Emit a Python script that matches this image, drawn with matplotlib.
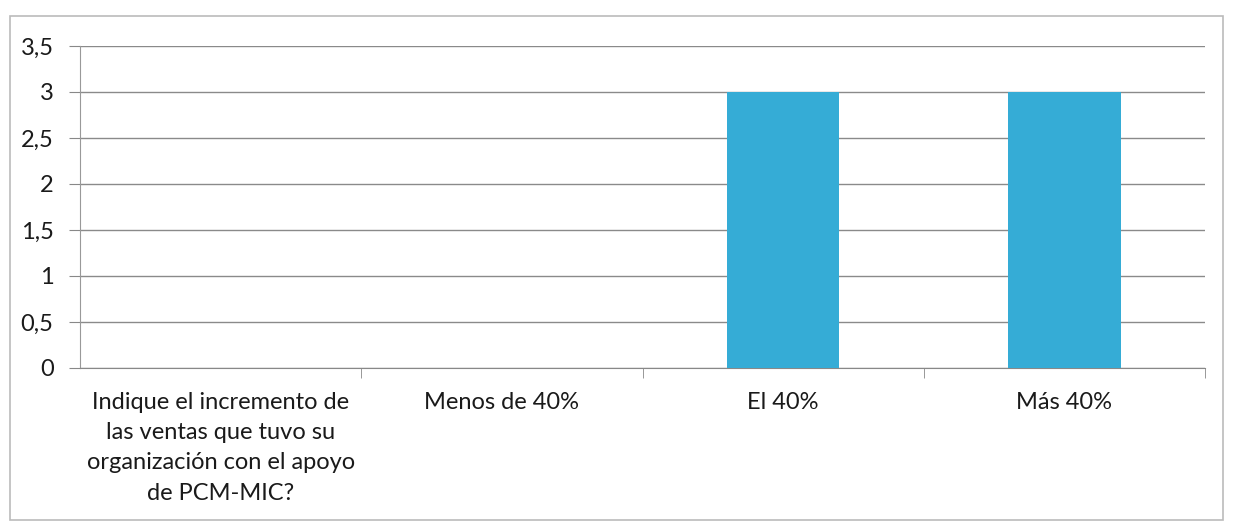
import matplotlib
matplotlib.use("Agg")
import matplotlib.pyplot as plt
from matplotlib.patches import Rectangle

categories = ["Indique el incremento de\nlas ventas que tuvo su\norganización con el apoyo\nde PCM-MIC?",
              "Menos de 40%", "El 40%", "Más 40%"]
values = [0, 0, 3, 3]
yticks = [0, 0.5, 1, 1.5, 2, 2.5, 3, 3.5]
ytick_labels = ["0", "0,5", "1", "1,5", "2", "2,5", "3", "3,5"]

plt.rcParams['font.family'] = ['Lato', 'DejaVu Sans']

fig = plt.figure(figsize=(12.33, 5.26), dpi=100)
ax = fig.add_axes([80/1233, 1-368/526, (1205-80)/1233, (368-46)/526])

x = list(range(len(categories)))
ax.bar(x, values, width=0.4, color="#35acd6", zorder=3)

ax.set_xlim(-0.5, len(categories) - 0.5)
ax.set_ylim(0, 3.5)
ax.set_yticks(yticks)
ax.set_yticklabels(ytick_labels, fontsize=17, color="#1a1a1a")
ax.set_xticks(x)
ax.set_xticklabels(categories, fontsize=17, va='top', linespacing=1.55, color="#1a1a1a")
ax.set_xticks([i + 0.5 for i in x], minor=True)
ax.tick_params(axis='x', which='major', length=0, pad=17)
ax.tick_params(axis='x', which='minor', length=7, color="#888888", direction='out')
ax.tick_params(axis='y', length=8, color="#888888", pad=11)

ax.grid(axis='y', color="#8a8a8a", linewidth=1.0, zorder=0)
ax.set_axisbelow(True)
for s in ['top', 'right']:
    ax.spines[s].set_visible(False)
ax.spines['left'].set_color("#999999")
ax.spines['bottom'].set_color("#888888")

# chart area border
fig.patches.append(Rectangle((10/1233, 6/526), 1-20/1233, 1-22/526, transform=fig.transFigure,
                             fill=False, edgecolor="#bbbbbb", linewidth=1.2))

fig.savefig("out.png", dpi=100)
